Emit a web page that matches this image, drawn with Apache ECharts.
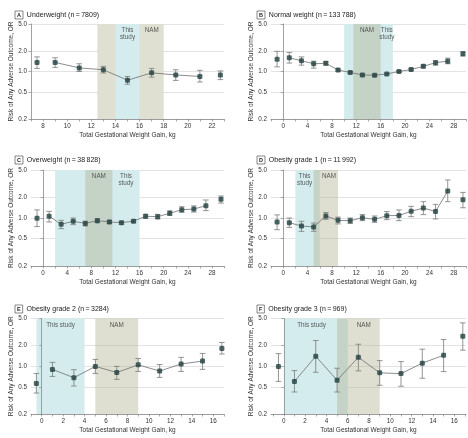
<!DOCTYPE html>
<html><head><meta charset="utf-8">
<script src="https://cdn.jsdelivr.net/npm/echarts@6/dist/echarts.min.js"></script>
<style>html,body{margin:0;padding:0;background:#fff}#c{width:468px;height:438px}</style>
</head><body><div id="c"></div>
<script>
// ---------- DATA ----------
const panelLetters = ['A', 'B', 'C', 'D', 'E', 'F'];
const panelNames = [
  'Underweight (n\u2009=\u20097809)',
  'Normal weight (n\u2009=\u2009133\u2009788)',
  'Overweight (n\u2009=\u200938\u2009828)',
  'Obesity grade 1 (n\u2009=\u200911\u2009992)',
  'Obesity grade 2 (n\u2009=\u20093284)',
  'Obesity grade 3 (n\u2009=\u2009969)'
];
const yTickValues = [0.2, 0.5, 1.0, 2.0, 5.0];

const gainA = [7.5, 9, 11, 13, 15, 17, 19, 21, 22.7];
const orA   = [1.36, 1.36, 1.13, 1.06, 0.745, 0.955, 0.89, 0.845, 0.89];
const loA   = [1.11, 1.15, 1.00, 0.95, 0.65, 0.826, 0.74, 0.70, 0.76];
const hiA   = [1.64, 1.59, 1.30, 1.19, 0.845, 1.11, 1.06, 1.04, 1.02];

const gainB = [-1, 1, 3, 5, 7, 9, 11, 13, 15, 17, 19, 21, 23, 25, 27, 29.5];
const orB   = [1.52, 1.59, 1.44, 1.30, 1.32, 1.05, 0.97, 0.89, 0.88, 0.92, 1.00, 1.07, 1.19, 1.35, 1.42, 1.82];
const loB   = [1.17, 1.33, 1.24, 1.12, 1.24, 1.01, 0.94, 0.86, 0.85, 0.89, 0.97, 1.03, 1.13, 1.24, 1.30, 1.69];
const hiB   = [1.98, 1.91, 1.64, 1.42, 1.39, 1.09, 1.00, 0.92, 0.91, 0.95, 1.03, 1.11, 1.25, 1.44, 1.57, 1.95];

const gainC = [-1, 1, 3, 5, 7, 9, 11, 13, 15, 17, 19, 21, 23, 25, 27, 29.5];
const orC   = [0.99, 1.06, 0.81, 0.895, 0.835, 0.915, 0.875, 0.855, 0.90, 1.06, 1.045, 1.17, 1.32, 1.35, 1.51, 1.87];
const loC   = [0.75, 0.875, 0.70, 0.80, 0.765, 0.855, 0.83, 0.81, 0.86, 0.99, 0.97, 1.09, 1.21, 1.22, 1.28, 1.65];
const hiC   = [1.31, 1.25, 0.925, 1.00, 0.90, 0.98, 0.925, 0.90, 0.94, 1.13, 1.13, 1.27, 1.46, 1.50, 1.83, 2.09];

const gainD = [-1, 1, 3, 5, 7, 9, 11, 13, 15, 17, 19, 21, 23, 25, 27, 29.5];
const orD   = [0.875, 0.855, 0.765, 0.74, 1.07, 0.925, 0.915, 1.01, 0.955, 1.08, 1.09, 1.25, 1.40, 1.24, 2.47, 1.85];
const loD   = [0.676, 0.73, 0.64, 0.64, 0.955, 0.82, 0.835, 0.915, 0.865, 0.945, 0.915, 1.045, 1.12, 0.97, 1.73, 1.41];
const hiD   = [1.11, 1.00, 0.895, 0.845, 1.20, 1.03, 1.00, 1.12, 1.07, 1.24, 1.31, 1.48, 1.73, 1.58, 3.58, 2.36];

const gainE = [-0.5, 1, 3, 5, 7, 9, 11, 13, 15, 16.8];
const orE   = [0.56, 0.90, 0.68, 0.995, 0.81, 1.05, 0.85, 1.08, 1.19, 1.82];
const loE   = [0.405, 0.71, 0.513, 0.785, 0.643, 0.84, 0.687, 0.84, 0.90, 1.51];
const hiE   = [0.785, 1.14, 0.89, 1.26, 0.995, 1.30, 1.06, 1.35, 1.54, 2.23];

const gainF = [-0.5, 1, 3, 5, 7, 9, 11, 13, 15, 16.8];
const orF   = [0.99, 0.60, 1.40, 0.624, 1.355, 0.80, 0.78, 1.11, 1.45, 2.75];
const loF   = [0.60, 0.42, 0.817, 0.42, 0.855, 0.526, 0.51, 0.667, 0.835, 1.72];
const hiF   = [1.53, 0.864, 2.38, 0.935, 2.10, 1.21, 1.17, 1.78, 2.46, 4.32];

// recommended-range bands [from, to] (kg)
const studyBands = [[14, 16], [10, 18], [2, 16], [2, 6], [-0.5, 4], [0, 6]];
const namBands   = [[12.5, 18], [11.5, 16], [7, 11.5], [5, 9], [5, 9], [5, 9]];
const studyLabels = ['This\nstudy', 'This\nstudy', 'This\nstudy', 'This\nstudy', 'This study', 'This study'];
const namLabel = 'NAM';

// x-axis ranges and tick labels
const xRanges = [[7, 23], [-2, 30], [-2, 30], [-2, 30], [-1, 17], [-1.2, 17.1]];
const xLabelsA = [8, 10, 12, 14, 16, 18, 20, 22];
const xLabelsBCD = [0, 4, 8, 12, 16, 20, 24, 28];
const xLabelsEF = [0, 2, 4, 6, 8, 10, 12, 14, 16];

const xTitle = 'Total Gestational Weight Gain, kg';
const yTitle = 'Risk of Any Adverse Outcome, OR';

// ---------- LAYOUT / STYLE ----------
const panels = [
  {g: gainA, o: orA, l: loA, h: hiA, labels: xLabelsA, tickStep: 1},
  {g: gainB, o: orB, l: loB, h: hiB, labels: xLabelsBCD, tickStep: 2},
  {g: gainC, o: orC, l: loC, h: hiC, labels: xLabelsBCD, tickStep: 2},
  {g: gainD, o: orD, l: loD, h: hiD, labels: xLabelsBCD, tickStep: 2},
  {g: gainE, o: orE, l: loE, h: hiE, labels: xLabelsEF, tickStep: 1},
  {g: gainF, o: orF, l: loF, h: hiF, labels: xLabelsEF, tickStep: 1}
];
const gridBoxes = [
  {left: 31, top: 24, width: 193, height: 95},
  {left: 271, top: 24, width: 195, height: 95},
  {left: 31, top: 170, width: 193, height: 96},
  {left: 271, top: 170, width: 195, height: 96},
  {left: 31, top: 318.5, width: 193, height: 95.5},
  {left: 271, top: 318.5, width: 195, height: 95.5}
];
const titlePos = [[10, 6], [252, 6], [10, 151], [252, 151], [10, 300], [252, 300]];
// label anchor x (kg) for band captions: [study, NAM]
const bandLabelX = [[15, 17], [17, 13.75], [13.75, 9.25], [3.5, 7.5], [1.75, 7], [2.6, 7.5]];
const studyOnTop = [true, false, false, false, false, false];

const FONT = 'Liberation Sans, Arial, sans-serif';
const BLUE = '#d5ecee';
const NAM_SOLID = '#e0e0d2';
const NAM_OVER = 'rgba(176,176,146,0.42)';
const POINT = '#21403f';
const LINE = '#6f6f6f';
const BAR = '#7a7a7a';

function ticksFor(range, step) {
  const out = [];
  const start = Math.ceil(range[0] / step) * step;
  for (let v = start; v <= range[1] + 1e-9; v += step) out.push(v);
  return out;
}

const option = {
  animation: false,
  backgroundColor: '#fff',
  textStyle: {fontFamily: FONT},
  title: panels.map((p, i) => ({
    left: titlePos[i][0], top: titlePos[i][1],
    text: '{b|' + panelLetters[i] + '}  ' + panelNames[i],
    textStyle: {
      fontFamily: FONT, fontSize: 7, fontWeight: 'normal', color: '#222',
      rich: {b: {fontFamily: FONT, fontSize: 5.5, fontWeight: 'bold', color: '#222',
                 borderColor: '#555', borderWidth: 0.7, padding: [1.5, 2, 0.5, 2]}}
    }
  })),
  grid: gridBoxes.map(b => Object.assign({containLabel: false}, b)),
  xAxis: panels.map((p, i) => ({
    type: 'value', gridIndex: i, min: xRanges[i][0], max: xRanges[i][1],
    name: xTitle, nameLocation: 'middle', nameGap: 13,
    nameTextStyle: {fontFamily: FONT, fontSize: 6.5, color: '#333'},
    axisLine: {show: true, onZero: false, lineStyle: {color: '#8a8a8a', width: 0.8}},
    axisTick: {show: true, length: 2.5, customValues: ticksFor(xRanges[i], p.tickStep), lineStyle: {color: '#8a8a8a', width: 0.7}},
    axisLabel: {customValues: p.labels, fontFamily: FONT, fontSize: 6.3, color: '#333', margin: 4},
    splitLine: {show: false}
  })),
  yAxis: panels.map((p, i) => ({
    type: 'log', gridIndex: i, min: 0.2, max: 5, logBase: 10,
    name: yTitle, nameLocation: 'middle', nameGap: 14,
    nameTextStyle: {fontFamily: FONT, fontSize: 6.5, color: '#333'},
    axisLine: {show: true, lineStyle: {color: '#8a8a8a', width: 0.8}},
    axisTick: {show: true, length: 2.5, customValues: yTickValues, lineStyle: {color: '#8a8a8a', width: 0.7}},
    axisLabel: {customValues: yTickValues, fontFamily: FONT, fontSize: 6.3, color: '#333', margin: 4,
                formatter: v => Number(v).toFixed(1)},
    splitLine: {show: true, lineStyle: {color: '#dcdcdc', width: 0.8}},
    minorSplitLine: {show: false}
  })),
  series: []
};

panels.forEach((p, i) => {
  const sb = studyBands[i], nb = namBands[i];
  const studyArea = [{xAxis: sb[0], itemStyle: {color: BLUE}}, {xAxis: sb[1]}];
  const namArea = studyOnTop[i]
    ? [{xAxis: nb[0], itemStyle: {color: NAM_SOLID}}, {xAxis: nb[1]}]
    : [{xAxis: nb[0], itemStyle: {color: NAM_OVER}}, {xAxis: nb[1]}];
  const areas = studyOnTop[i] ? [namArea, studyArea] : [studyArea, namArea];

  // connecting line (interior bins only)
  option.series.push({
    type: 'line', xAxisIndex: i, yAxisIndex: i, z: 3,
    data: p.g.slice(1, -1).map((x, k) => [x, p.o[k + 1]]),
    symbol: 'none', lineStyle: {color: LINE, width: 0.8}, silent: true,
    markArea: {silent: true, z: 0, data: areas}
  });
  // error bars
  option.series.push({
    type: 'custom', xAxisIndex: i, yAxisIndex: i, z: 4,
    data: p.g.map((x, k) => [x, p.l[k], p.h[k]]),
    encode: {x: 0, y: [1, 2]},
    renderItem: (params, api) => {
      const x = api.value(0);
      const a = api.coord([x, api.value(1)]);
      const b = api.coord([x, api.value(2)]);
      const w = 2.8;
      const st = {stroke: BAR, lineWidth: 0.8};
      return {type: 'group', children: [
        {type: 'line', shape: {x1: a[0], y1: a[1], x2: b[0], y2: b[1]}, style: st},
        {type: 'line', shape: {x1: a[0] - w, y1: a[1], x2: a[0] + w, y2: a[1]}, style: st},
        {type: 'line', shape: {x1: b[0] - w, y1: b[1], x2: b[0] + w, y2: b[1]}, style: st}
      ]};
    }
  });
  // points
  option.series.push({
    type: 'scatter', xAxisIndex: i, yAxisIndex: i, z: 5,
    data: p.g.map((x, k) => [x, p.o[k]]),
    symbol: 'roundRect', symbolSize: 5, itemStyle: {color: POINT}
  });
  // band captions
  option.series.push({
    type: 'scatter', xAxisIndex: i, yAxisIndex: i, z: 6, silent: true,
    symbolSize: 0,
    data: [
      {value: [bandLabelX[i][0], 5], name: studyLabels[i]},
      {value: [bandLabelX[i][1], 5], name: namLabel}
    ],
    label: {show: true, position: 'bottom', distance: 3, formatter: d => d.name,
            fontFamily: FONT, fontSize: 6.3, lineHeight: 7, color: '#333', align: 'center'}
  });
});

const chart = echarts.init(document.getElementById('c'), null, {renderer: 'canvas'});
chart.setOption(option);
</script>
</body></html>
